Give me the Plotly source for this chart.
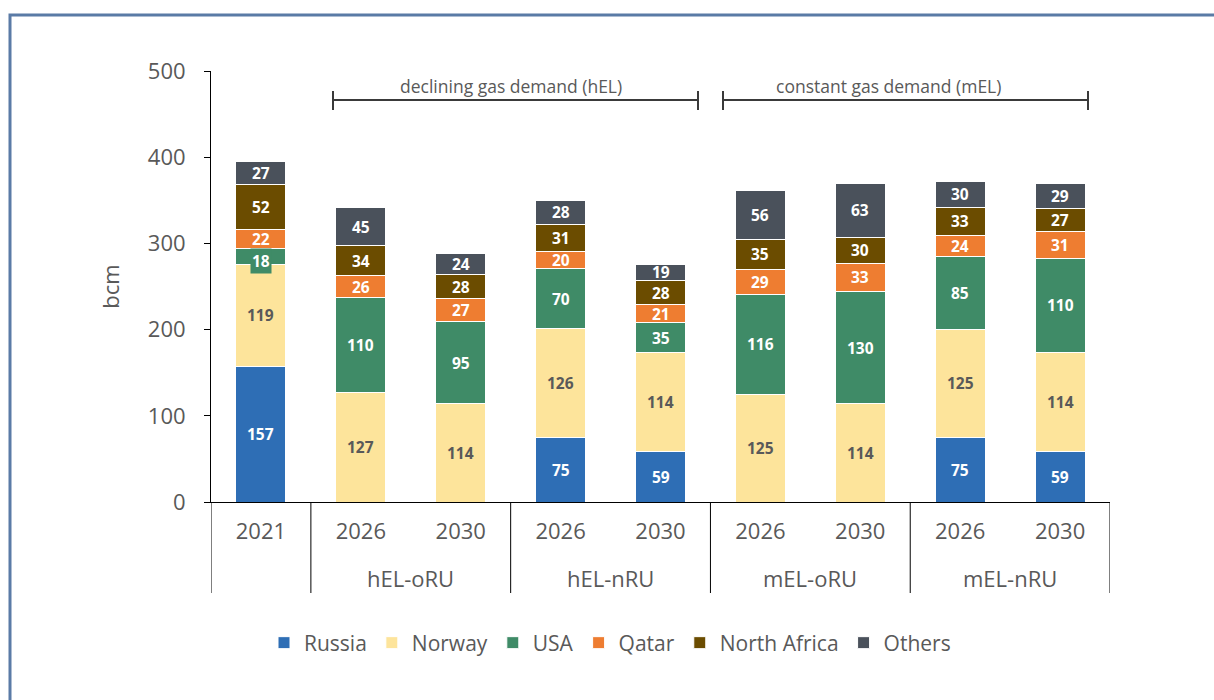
import plotly.graph_objects as go

group_names = ["hEL-oRU", "hEL-nRU", "mEL-oRU", "mEL-nRU"]
years = ["2021", "2026", "2030", "2026", "2030", "2026", "2030", "2026", "2030"]

series_names = ["Russia", "Norway", "USA", "Qatar", "North Africa", "Others"]
russia = [157, 0, 0, 75, 59, 0, 0, 75, 59]
norway = [119, 127, 114, 126, 114, 125, 114, 125, 114]
usa = [18, 110, 95, 70, 35, 116, 130, 85, 110]
qatar = [22, 26, 27, 20, 21, 29, 33, 24, 31]
north_africa = [52, 34, 28, 31, 28, 35, 30, 33, 27]
others = [27, 45, 24, 28, 19, 56, 63, 30, 29]

colors = ["#2E6EB5", "#FDE49B", "#3F8B67", "#EE7D31", "#6B4C00", "#4A515B"]
label_colors = ["white", "#595959", "white", "white", "white", "white"]

y_ticks = [0, 100, 200, 300, 400, 500]
bracket_texts = ["declining gas demand (hEL)", "constant gas demand (mEL)"]

FONT = "Open Sans"
GRAY = "#595959"

xpos = list(range(len(years)))
all_series = [russia, norway, usa, qatar, north_africa, others]

fig = go.Figure()
for name, vals, col in zip(series_names, all_series, colors):
    fig.add_trace(go.Bar(
        x=xpos, y=vals, name=name,
        marker=dict(color=col, line=dict(color="white", width=1)),
        hoverinfo="name+y",
    ))

# plot area in pixels: x 211..1110, y 71..502
L, R, T, B = 211, 1110, 71, 502
W, H = R - L, B - T


def px(x):
    return (x - L) / W


def py(y):
    return (B - y) / H


shapes = []
# outer frame
shapes.append(dict(type="rect", xref="paper", yref="paper",
                   x0=px(10), x1=px(1225), y0=py(710), y1=py(15),
                   line=dict(color="#5A7BA6", width=3), fillcolor="rgba(0,0,0,0)", layer="below"))
# brackets
for (a, b) in [(333, 698), (723, 1088)]:
    shapes.append(dict(type="line", xref="paper", yref="paper", x0=px(a), x1=px(b), y0=py(100), y1=py(100),
                       line=dict(color="#3A3A3A", width=2)))
    for xx in (a, b):
        shapes.append(dict(type="line", xref="paper", yref="paper", x0=px(xx), x1=px(xx), y0=py(91), y1=py(110),
                           line=dict(color="#3A3A3A", width=2)))

# category dividers below the axis
for xd in [-0.5, 0.5, 2.5, 4.5, 6.5, 8.5]:
    shapes.append(dict(type="line", xref="x", yref="paper", x0=xd, x1=xd, y0=0, y1=py(593),
                       line=dict(color="black", width=1)))

annotations = []
# segment value labels, centred in each stacked segment
n_series = len(all_series)
for i in xpos:
    base = 0
    for k, (vals, lcol) in enumerate(zip(all_series, label_colors)):
        v = vals[i]
        if v > 0:
            small = v < 20 and k < n_series - 1
            ann = dict(text=f"<b>{v}</b>", xref="x", yref="y", x=i, y=base + v / 2,
                       yshift=-5 if small else 0, showarrow=False, borderpad=0,
                       font=dict(family=FONT, size=15.5, color=lcol),
                       xanchor="center", yanchor="middle")
            if small:
                ann["bgcolor"] = colors[k]
                ann["borderpad"] = 1
            annotations.append(ann)
        base += v

for txt, cx in zip(bracket_texts, [511, 888]):
    annotations.append(dict(text=txt, xref="paper", yref="paper", x=px(cx), y=py(86), showarrow=False,
                            font=dict(family=FONT, size=17.5, color=GRAY), xanchor="center", yanchor="middle"))
for i, g in enumerate(group_names):
    annotations.append(dict(text=g, xref="x", yref="paper", x=1.5 + 2 * i, y=py(578), showarrow=False,
                            font=dict(family=FONT, size=22, color=GRAY), xanchor="center", yanchor="middle"))

fig.update_layout(
    barmode="stack", bargap=0.5,
    width=1214, height=700,
    margin=dict(l=L, r=1214 - R, t=T, b=700 - B),
    paper_bgcolor="white", plot_bgcolor="white",
    font=dict(family=FONT, color=GRAY),
    shapes=shapes, annotations=annotations,
    legend=dict(orientation="h", x=px(610), xanchor="center", y=py(643), yanchor="middle",
                font=dict(family=FONT, size=21, color=GRAY), itemwidth=30,
                traceorder="normal"),
    xaxis=dict(range=[-0.5, 8.5], tickvals=xpos, ticktext=years, showline=True, linecolor="black",
               linewidth=1, ticks="", ticklabelstandoff=10,
               tickfont=dict(family=FONT, size=22, color=GRAY), showgrid=False, zeroline=False),
    yaxis=dict(range=[0, 500], tickvals=y_ticks, showline=True, linecolor="black", linewidth=1,
               ticks="outside", ticklen=6, tickcolor="black", showgrid=False, zeroline=False,
               ticklabelstandoff=14,
               tickfont=dict(family=FONT, size=22, color=GRAY),
               title=dict(text="bcm", font=dict(family=FONT, size=22, color=GRAY), standoff=22)),
)

fig.write_html("out.html")
